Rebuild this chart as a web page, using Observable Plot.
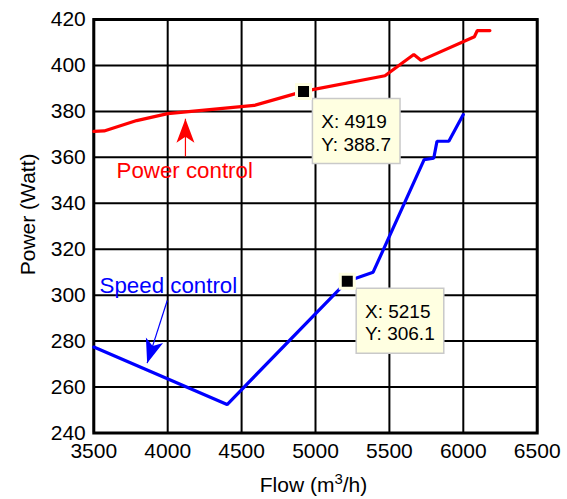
<!DOCTYPE html>
<html>
<head>
<meta charset="utf-8">
<script src="https://cdn.jsdelivr.net/npm/d3@7"></script>
<script src="https://cdn.jsdelivr.net/npm/@observablehq/plot@0.6"></script>
<style>
  html, body { margin: 0; padding: 0; background: #ffffff; }
  #chart svg { display: block; }
</style>
</head>
<body>
<div id="chart"></div>
<script>
// ---- data ----
const xTicks = [3500, 4000, 4500, 5000, 5500, 6000, 6500];
const yTicks = [240, 260, 280, 300, 320, 340, 360, 380, 400, 420];

const powerFlow  = [3500, 3570, 3790, 4000, 4585, 4919, 5470, 5665, 5715, 6075, 6095, 6180];
const powerValue = [371.3, 371.5, 376, 379, 382.6, 388.7, 395.5, 404.8, 402.2, 412.5, 415.2, 415.2];

const speedFlow  = [3500, 4402, 5215, 5390, 5735, 5800, 5822, 5902, 6000];
const speedValue = [277.4, 252.4, 306.1, 310, 359, 359.6, 367, 367, 378.6];

const tipFlow  = [4919, 5215];
const tipValue = [388.7, 306.1];

const labelText  = ["Power control", "Speed control"];
const labelFlow  = [3654, 3539];
const labelValue = [354.0, 304.2];

const arrowTailFlow  = [4120, 3997];
const arrowTailValue = [360.4, 297.7];
const arrowTipFlow   = [4120, 3861];
const arrowTipValue  = [376.8, 270.4];

const seriesColors = ["#ff0000", "#0000ff"];

// ---- layout ----
const W = 567, H = 499;
const mL = 93.3, mR = 30.3, mT = 19, mB = 66.5;
const FONT = "'Liberation Sans', Arial, Helvetica, sans-serif";

const power = powerFlow.map((f, i) => ({flow: f, value: powerValue[i]}));
const speed = speedFlow.map((f, i) => ({flow: f, value: speedValue[i]}));
const tips = tipFlow.map((f, i) => ({flow: f, value: tipValue[i], text: `X: ${f}\nY: ${tipValue[i]}`}));
const labels = labelText.map((t, i) => ({text: t, flow: labelFlow[i], value: labelValue[i], color: seriesColors[i]}));

// pixel mapping identical to the Plot scales, used only to orient arrowheads
const px = d3.scaleLinear([3500, 6500], [mL, W - mR]);
const py = d3.scaleLinear([240, 420], [H - mB, mT]);
const arrows = arrowTailFlow.map((f, i) => {
  const dx = px(arrowTipFlow[i]) - px(f);
  const dy = py(arrowTipValue[i]) - py(arrowTailValue[i]);
  return {
    x1: f, y1: arrowTailValue[i], x2: arrowTipFlow[i], y2: arrowTipValue[i],
    color: seriesColors[i],
    angle: Math.atan2(dy, dx) * 180 / Math.PI + 90
  };
});

const arrowHead = {
  draw(context) {
    context.moveTo(0, 0);
    context.lineTo(-9, 24);
    context.lineTo(0, 18);
    context.lineTo(9, 24);
    context.closePath();
  }
};

const xLabel = "Flow (m3/h)";

const chart = Plot.plot({
  width: W,
  height: H,
  marginLeft: mL,
  marginRight: mR,
  marginTop: mT,
  marginBottom: mB,
  style: {fontFamily: FONT, fontSize: "21px", color: "#000", background: "#fff"},
  x: {domain: [3500, 6500], ticks: xTicks, tickFormat: d => `${d}`, tickSize: 0, tickPadding: 10, label: null},
  y: {domain: [240, 420], ticks: yTicks, tickFormat: d => `${d}`, tickSize: 0, tickPadding: 8, label: null},
  marks: [
    Plot.ruleX(xTicks, {stroke: "#000", strokeWidth: 2}),
    Plot.ruleY(yTicks, {stroke: "#000", strokeWidth: 2}),
    Plot.frame({stroke: "#000", strokeWidth: 3}),
    Plot.line(power, {x: "flow", y: "value", stroke: seriesColors[0], strokeWidth: 3.2, strokeLinejoin: "miter"}),
    Plot.line(speed, {x: "flow", y: "value", stroke: seriesColors[1], strokeWidth: 3.2, strokeLinejoin: "miter"}),
    Plot.link(arrows, {x1: "x1", y1: "y1", x2: "x2", y2: "y2", stroke: "color", strokeWidth: 1.2}),
    Plot.dot(arrows, {x: "x2", y: "y2", symbol: arrowHead, fill: "color", stroke: "none", rotate: "angle"}),
    Plot.text(labels, {x: "flow", y: "value", text: "text", fill: "color", textAnchor: "start", fontSize: 22.3}),
    Plot.rect(tips, {x1: "flow", x2: "flow", y1: "value", y2: "value",
      insetLeft: 9.4, insetRight: -97, insetTop: 7.6, insetBottom: -72.6,
      fill: "#ffffe1", stroke: "#c9c9c9", strokeWidth: 1.5}),
    Plot.dot(tips, {x: "flow", y: "value", symbol: "square", r: 7.9, fill: "#000", stroke: "#ffffe1", strokeWidth: 3}),
    Plot.text(tips, {x: "flow", y: "value", text: "text", textAnchor: "start", lineAnchor: "top",
      dx: 17.7, dy: 20.8, fontSize: 19, lineHeight: 1.18, fill: "#000"}),
    Plot.text(["Power (Watt)"], {frameAnchor: "left", rotate: -90, dx: -66, dy: 49, fontSize: 21, fill: "#000"}),
    Plot.text([xLabel], {frameAnchor: "bottom", dx: -2, dy: 58.8, fontSize: 21, fill: "#000"})
  ]
});

// render the "3" of m3 as a real superscript
chart.querySelectorAll("text").forEach(t => {
  if (t.textContent === xLabel) {
    t.textContent = "";
    const ns = "http://www.w3.org/2000/svg";
    const a = document.createElementNS(ns, "tspan"); a.textContent = "Flow (m";
    const s = document.createElementNS(ns, "tspan"); s.textContent = "3";
    s.setAttribute("dy", "-8"); s.setAttribute("font-size", "15");
    const b = document.createElementNS(ns, "tspan"); b.textContent = "/h)";
    b.setAttribute("dy", "8");
    t.append(a, s, b);
  }
});

document.getElementById("chart").appendChild(chart);
</script>
</body>
</html>
